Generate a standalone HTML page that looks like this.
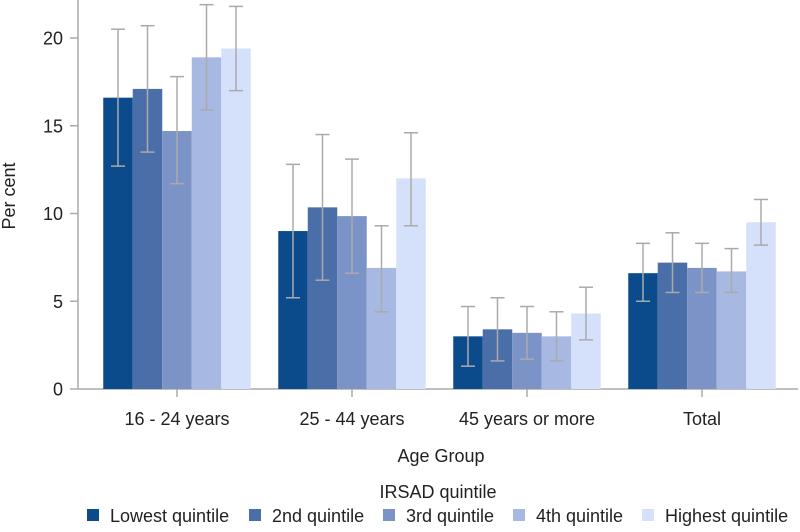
<!DOCTYPE html>
<html><head><meta charset="utf-8"><style>
body{margin:0;background:#fff;font-family:"Liberation Sans",sans-serif}
svg text{font-family:"Liberation Sans",sans-serif;fill:#222}
</style></head><body>
<svg id="c" width="800" height="527"></svg>
<script>
const categories=["16 - 24 years","25 - 44 years","45 years or more","Total"];
const seriesNames=["Lowest quintile","2nd quintile","3rd quintile","4th quintile","Highest quintile"];
const values=[[16.6,9.0,3.0,6.6],[17.1,10.35,3.4,7.2],[14.7,9.85,3.2,6.9],[18.9,6.9,3.0,6.7],[19.4,12.0,4.3,9.5]];
const lows=[[12.7,5.2,1.3,5.0],[13.5,6.2,1.6,5.5],[11.7,6.6,1.7,5.5],[15.9,4.4,1.6,5.5],[17.0,9.3,2.8,8.2]];
const highs=[[20.5,12.8,4.7,8.3],[20.7,14.5,5.2,8.9],[17.8,13.1,4.7,8.3],[21.9,9.3,4.4,8.0],[21.8,14.6,5.8,10.8]];
const yTicks=[0,5,10,15,20];
const colors=["#0b4a8b","#4a6ea8","#7b93c7","#a7b9e2","#d5e0fa"];
const NS="http://www.w3.org/2000/svg",svg=document.getElementById('c');
function mk(t,a,p){const e=document.createElementNS(NS,t);for(const k in a)e.setAttribute(k,a[k]);(p||svg).appendChild(e);return e;}
const y=v=>389-v*17.55;
const cx=i=>177+i*175;
const bw=29.5;
let ax=mk('line',{x1:78,y1:0,x2:78,y2:389,stroke:'#aaa','stroke-width':1.5});

let bx=mk('line',{x1:78,y1:389,x2:798,y2:389,stroke:'#aaa','stroke-width':1.5});

yTicks.forEach(t=>{
 mk('line',{x1:70,x2:78,y1:y(t),y2:y(t),stroke:'#aaa','stroke-width':1.5});
 const tx=mk('text',{x:63,y:y(t)+6.5,'text-anchor':'end','font-size':18});tx.textContent=t;
 
});
categories.forEach((c,i)=>{
 mk('line',{x1:cx(i),x2:cx(i),y1:389,y2:397,stroke:'#aaa','stroke-width':1.5});
 const tx=mk('text',{x:cx(i),y:425,'text-anchor':'middle','font-size':18});tx.textContent=c;
 
});
seriesNames.forEach((s,k)=>{
 categories.forEach((c,i)=>{
  const x0=cx(i)-2.5*bw+k*bw;
  const r=mk('rect',{x:x0,y:y(values[k][i]),width:bw,height:y(0)-y(values[k][i]),fill:colors[k]});
  
  const m=x0+bw/2,g=mk('g',{stroke:'#aaa','stroke-width':1.5});
  
  mk('line',{x1:m,x2:m,y1:y(lows[k][i]),y2:y(highs[k][i])},g);
  mk('line',{x1:m-7,x2:m+7,y1:y(lows[k][i]),y2:y(lows[k][i])},g);
  mk('line',{x1:m-7,x2:m+7,y1:y(highs[k][i]),y2:y(highs[k][i])},g);
 });
});
let t=mk('text',{x:0,y:0,'text-anchor':'middle','font-size':18,transform:'translate(15,196) rotate(-90)'});t.textContent='Per cent';

t=mk('text',{x:441,y:462,'text-anchor':'middle','font-size':18});t.textContent='Age Group';

t=mk('text',{x:438,y:498,'text-anchor':'middle','font-size':18});t.textContent='IRSAD quintile';

const lx=[87,249,383,513,642];
seriesNames.forEach((s,k)=>{
 const g=mk('g',{});
 
 mk('rect',{x:lx[k],y:509,width:12,height:12,fill:colors[k]},g);
 const tx=mk('text',{x:lx[k]+23,y:522,'font-size':18},g);tx.textContent=s;
});
</script>
</body></html>
